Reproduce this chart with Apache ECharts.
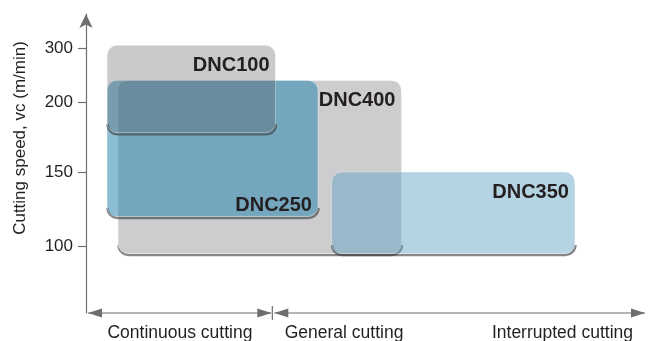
<!DOCTYPE html>
<html>
<head>
<meta charset="utf-8">
<script src="https://cdn.jsdelivr.net/npm/echarts@6/dist/echarts.min.js"></script>
<style>
html, body { margin: 0; padding: 0; background: #fff; }
#main { width: 651px; height: 341px; }
</style>
</head>
<body>
<div id="main"></div>
<script>
// speed axis in the original is not linear, each tick gets its own level
var speedTicks = [100, 150, 200, 300]
var speedLevels = [0, 74, 144, 198]

// application boxes, drawn in this order (last on top)
var grades = ['DNC400', 'DNC350', 'DNC250', 'DNC100']
var condFrom = [0.172, 1.318, 0.113, 0.113]
var condTo = [1.693, 2.624, 1.245, 1.017]
var speedLow = [95, 95, 120, 178]
var speedHigh = [240, 150, 240, 305]
var labelSide = ['top', 'top', 'bottom', 'top']

var conditions = ['Continuous cutting', 'General cutting', 'Interrupted cutting']
var conditionCenters = [0.504, 1.385, 2.557]
var conditionBounds = [0, 1, 3]

var boxColors = {
  DNC400: 'rgb(205,205,207)',
  DNC350: 'rgba(92,160,192,0.45)',
  DNC250: 'rgba(44,135,175,0.55)',
  DNC100: 'rgba(80,80,86,0.3)'
}
var axisColor = '#6d6e70'
var textColor = '#231f20'
var fontFam = '"Liberation Sans", Arial, Helvetica, sans-serif'

function speedToLevel(v) {
  var i = 0
  while (i < speedTicks.length - 2 && v > speedTicks[i + 1]) i++
  var t = (v - speedTicks[i]) / (speedTicks[i + 1] - speedTicks[i])
  return speedLevels[i] + t * (speedLevels[i + 1] - speedLevels[i])
}

function indexOfNear(arr, v) {
  for (var i = 0; i < arr.length; i++) {
    if (Math.abs(arr[i] - v) < 1e-6) return i
  }
  return -1
}

var yMin = -67
var yMax = 232

function renderBox(params, api) {
  var i = api.value(4)
  var p0 = api.coord([api.value(0), api.value(3)])
  var p1 = api.coord([api.value(1), api.value(2)])
  var x = p0[0], y = p0[1], w = p1[0] - p0[0], h = p1[1] - p0[1]
  var r = 10
  var name = grades[i]
  var bottomEdge = 'M' + x + ',' + (y + h - r) +
    ' A' + r + ',' + r + ' 0 0 0 ' + (x + r) + ',' + (y + h) +
    ' L' + (x + w - r) + ',' + (y + h) +
    ' A' + r + ',' + r + ' 0 0 0 ' + (x + w) + ',' + (y + h - r)
  var ty = labelSide[i] === 'top' ? y + 20 : y + h - 11
  return {
    type: 'group',
    children: [
      {
        type: 'path',
        x: 0.5, y: 1.5,
        shape: { pathData: bottomEdge },
        style: { fill: null, stroke: 'rgba(55,55,58,0.6)', lineWidth: 2.5 }
      },
      {
        type: 'rect',
        shape: { x: x, y: y, width: w, height: h, r: r },
        style: { fill: boxColors[name], stroke: 'rgba(255,255,255,0.35)', lineWidth: 1 }
      },
      {
        type: 'text',
        style: {
          text: name, x: x + w - 6, y: ty,
          align: 'right', verticalAlign: 'middle',
          font: 'bold 20px ' + fontFam, fill: textColor
        }
      }
    ]
  }
}

function renderCutAxis(params, api) {
  var a = api.coord([api.value(0), yMin])
  var b = api.coord([api.value(1), yMin])
  var y = a[1]
  var x0 = a[0] + 2
  var x1 = b[0] - (params.dataIndex === 0 ? 1 : 0)
  var L = 14, hw = 4.5
  var kids = [
    { type: 'line', shape: { x1: x0, y1: y, x2: x1, y2: y }, style: { stroke: axisColor, lineWidth: 1.2 } },
    { type: 'polygon', shape: { points: [[x0, y], [x0 + L, y - hw], [x0 + L, y + hw]] }, style: { fill: axisColor } },
    { type: 'polygon', shape: { points: [[x1, y], [x1 - L, y - hw], [x1 - L, y + hw]] }, style: { fill: axisColor } }
  ]
  if (params.dataIndex === 0) {
    kids.push({ type: 'line', shape: { x1: b[0], y1: y - 7, x2: b[0], y2: y + 7 }, style: { stroke: axisColor, lineWidth: 1.2 } })
  }
  return { type: 'group', children: kids }
}

var boxData = grades.map(function (g, i) {
  return [condFrom[i], condTo[i], speedToLevel(speedLow[i]), speedToLevel(speedHigh[i]), i]
})
var segData = []
for (var k = 0; k < conditionBounds.length - 1; k++) {
  segData.push([conditionBounds[k], conditionBounds[k + 1]])
}

var myChart = echarts.init(document.getElementById('main'))
var option = {
  animation: false,
  grid: { left: 86, right: 6, top: 14, bottom: 28, outerBoundsMode: 'none' },
  xAxis: {
    type: 'value', min: 0, max: 3,
    axisLine: { show: false },
    axisTick: { show: false },
    splitLine: { show: false },
    axisLabel: {
      customValues: conditionCenters,
      formatter: function (v) { return conditions[indexOfNear(conditionCenters, v)] || '' },
      margin: 11, fontSize: 17.5, color: textColor, fontFamily: fontFam
    }
  },
  yAxis: {
    type: 'value', min: yMin, max: yMax,
    splitLine: { show: false },
    axisLine: {
      show: true, symbol: ['none', 'arrow'], symbolSize: [10, 14],
      lineStyle: { color: axisColor, width: 1.2 }
    },
    axisTick: {
      show: true, customValues: speedLevels, length: 8,
      lineStyle: { color: axisColor, width: 1.2 }
    },
    axisLabel: {
      customValues: speedLevels,
      formatter: function (v) { var i = indexOfNear(speedLevels, v); return i < 0 ? '' : String(speedTicks[i]) },
      margin: 13, fontSize: 17, color: textColor, fontFamily: fontFam
    }
  },
  graphic: [{
    type: 'text', x: 20, y: 138, rotation: Math.PI / 2,
    style: {
      text: 'Cutting speed, vc (m/min)', align: 'center', verticalAlign: 'middle',
      font: '17px ' + fontFam, fill: textColor
    }
  }],
  series: [
    {
      type: 'custom', name: 'cutAxis', clip: false, silent: true,
      renderItem: renderCutAxis, data: segData
    },
    {
      type: 'custom', name: 'grades', clip: false,
      renderItem: renderBox, data: boxData
    }
  ]
}
myChart.setOption(option)
</script>
</body>
</html>
